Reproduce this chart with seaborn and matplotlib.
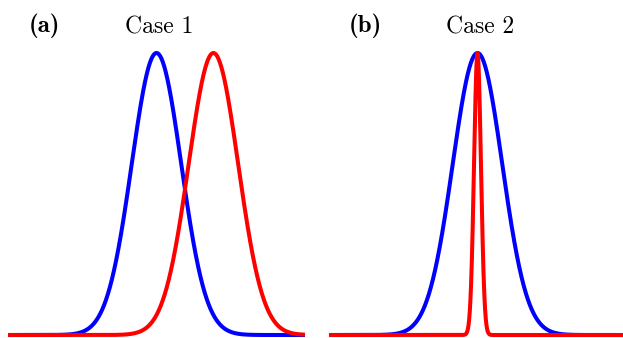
import numpy as np
import pandas as pd
import matplotlib
matplotlib.use("Agg")
import matplotlib.pyplot as plt
import seaborn as sns

# curve parameters (peak position, width), peaks scaled to 1
panel_tags = ["(a)", "(b)"]
panel_titles = ["Case 1", "Case 2"]
blue_means = [0.0, 0.0]
blue_widths = [1.0, 1.0]
red_means = [2.3, 0.0]
red_widths = [1.0, 0.14]
x_range = [-6.0, 6.0]

sns.set_style("white")

W, H = 623, 338
fig = plt.figure(figsize=(W / 100, H / 100), dpi=100)

# axes boxes in pixels: left, width ; curves run from baseline y=335 up to peak y=53
lefts = [8, 329]
width_px = 297
bottom_px, top_px = 335, 53

x = np.linspace(x_range[0], x_range[1], 2000)

for i in range(2):
    ax = fig.add_axes([lefts[i] / W, (H - bottom_px) / H,
                       width_px / W, (bottom_px - top_px) / H])
    df = pd.DataFrame({
        "x": np.concatenate([x, x]),
        "y": np.concatenate([
            np.exp(-(x - blue_means[i]) ** 2 / (2 * blue_widths[i] ** 2)),
            np.exp(-(x - red_means[i]) ** 2 / (2 * red_widths[i] ** 2)),
        ]),
        "curve": ["blue"] * len(x) + ["red"] * len(x),
    })
    sns.lineplot(data=df, x="x", y="y", hue="curve",
                 palette={"blue": "#0000ff", "red": "#ff0000"},
                 linewidth=2.9, legend=False, ax=ax, sort=False,
                 solid_capstyle="butt")
    for ln in ax.lines:
        ln.set_clip_on(False)
    ax.set_xlim(x_range)
    ax.set_ylim(0, 1)
    ax.set_axis_off()

    cx = lefts[i] + width_px / 2 + 3
    fig.text(cx / W, 1 - 34 / H, panel_titles[i], ha="center", va="baseline",
             fontsize=17, family="cmr10", color="black")
    fig.text((lefts[i] + 36) / W, 1 - 32 / H, panel_tags[i], ha="center",
             va="baseline", fontsize=18, family="cmb10", color="black")

fig.savefig("out.png", dpi=100)
